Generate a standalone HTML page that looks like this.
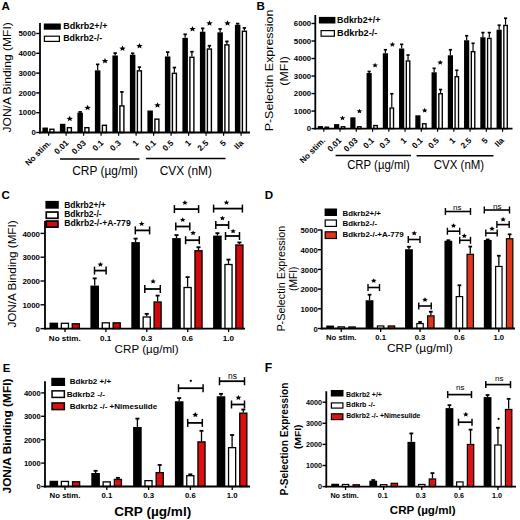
<!DOCTYPE html>
<html><head><meta charset="utf-8"><style>
html,body{margin:0;padding:0;background:#fff;width:520px;height:520px;overflow:hidden}
svg{display:block}
text{font-family:"Liberation Sans", sans-serif}
</style></head><body>
<svg width="520" height="520" viewBox="0 0 520 520" font-family='"Liberation Sans", sans-serif'>
<rect width="520" height="520" fill="#fff"/>
<text x="1.61" y="9.50" font-size="11.6" font-weight="bold">A</text>
<rect x="42.40" y="127.55" width="5.50" height="4.95" fill="#000"/>
<rect x="49.90" y="129.24" width="4.00" height="3.26" fill="#fff" stroke="#000" stroke-width="1.4"/>
<rect x="59.90" y="123.79" width="5.50" height="8.71" fill="#000"/>
<rect x="67.40" y="127.66" width="4.00" height="4.84" fill="#fff" stroke="#000" stroke-width="1.4"/>
<line x1="80.15" y1="112.70" x2="80.15" y2="111.91" stroke="#000" stroke-width="1.25"/>
<line x1="78.45" y1="111.91" x2="81.85" y2="111.91" stroke="#000" stroke-width="1.75"/>
<rect x="77.40" y="112.70" width="5.50" height="19.80" fill="#000"/>
<rect x="84.90" y="127.66" width="4.00" height="4.84" fill="#fff" stroke="#000" stroke-width="1.4"/>
<line x1="97.65" y1="70.33" x2="97.65" y2="64.39" stroke="#000" stroke-width="1.25"/>
<line x1="95.95" y1="64.39" x2="99.35" y2="64.39" stroke="#000" stroke-width="1.75"/>
<rect x="94.90" y="70.33" width="5.50" height="62.17" fill="#000"/>
<rect x="102.40" y="125.28" width="4.00" height="7.22" fill="#fff" stroke="#000" stroke-width="1.4"/>
<line x1="115.15" y1="55.48" x2="115.15" y2="53.10" stroke="#000" stroke-width="1.25"/>
<line x1="113.45" y1="53.10" x2="116.85" y2="53.10" stroke="#000" stroke-width="1.75"/>
<rect x="112.40" y="55.48" width="5.50" height="77.02" fill="#000"/>
<line x1="121.90" y1="105.18" x2="121.90" y2="91.91" stroke="#000" stroke-width="1.25"/>
<line x1="120.20" y1="91.91" x2="123.60" y2="91.91" stroke="#000" stroke-width="1.75"/>
<rect x="119.90" y="105.88" width="4.00" height="26.62" fill="#fff" stroke="#000" stroke-width="1.4"/>
<line x1="132.65" y1="54.78" x2="132.65" y2="53.30" stroke="#000" stroke-width="1.25"/>
<line x1="130.95" y1="53.30" x2="134.35" y2="53.30" stroke="#000" stroke-width="1.75"/>
<rect x="129.90" y="54.78" width="5.50" height="77.72" fill="#000"/>
<line x1="139.40" y1="70.13" x2="139.40" y2="67.16" stroke="#000" stroke-width="1.25"/>
<line x1="137.70" y1="67.16" x2="141.10" y2="67.16" stroke="#000" stroke-width="1.75"/>
<rect x="137.40" y="70.83" width="4.00" height="61.67" fill="#fff" stroke="#000" stroke-width="1.4"/>
<rect x="147.40" y="110.52" width="5.50" height="21.98" fill="#000"/>
<rect x="154.90" y="119.14" width="4.00" height="13.36" fill="#fff" stroke="#000" stroke-width="1.4"/>
<line x1="167.65" y1="56.47" x2="167.65" y2="52.11" stroke="#000" stroke-width="1.25"/>
<line x1="165.95" y1="52.11" x2="169.35" y2="52.11" stroke="#000" stroke-width="1.75"/>
<rect x="164.90" y="56.47" width="5.50" height="76.03" fill="#000"/>
<line x1="174.40" y1="72.60" x2="174.40" y2="67.56" stroke="#000" stroke-width="1.25"/>
<line x1="172.70" y1="67.56" x2="176.10" y2="67.56" stroke="#000" stroke-width="1.75"/>
<rect x="172.40" y="73.30" width="4.00" height="59.20" fill="#fff" stroke="#000" stroke-width="1.4"/>
<line x1="185.15" y1="37.86" x2="185.15" y2="34.29" stroke="#000" stroke-width="1.25"/>
<line x1="183.45" y1="34.29" x2="186.85" y2="34.29" stroke="#000" stroke-width="1.75"/>
<rect x="182.40" y="37.86" width="5.50" height="94.64" fill="#000"/>
<line x1="191.90" y1="56.57" x2="191.90" y2="51.72" stroke="#000" stroke-width="1.25"/>
<line x1="190.20" y1="51.72" x2="193.60" y2="51.72" stroke="#000" stroke-width="1.75"/>
<rect x="189.90" y="57.27" width="4.00" height="75.23" fill="#fff" stroke="#000" stroke-width="1.4"/>
<line x1="202.65" y1="31.72" x2="202.65" y2="28.35" stroke="#000" stroke-width="1.25"/>
<line x1="200.95" y1="28.35" x2="204.35" y2="28.35" stroke="#000" stroke-width="1.75"/>
<rect x="199.90" y="31.72" width="5.50" height="100.78" fill="#000"/>
<line x1="209.40" y1="48.35" x2="209.40" y2="45.78" stroke="#000" stroke-width="1.25"/>
<line x1="207.70" y1="45.78" x2="211.10" y2="45.78" stroke="#000" stroke-width="1.75"/>
<rect x="207.40" y="49.05" width="4.00" height="83.45" fill="#fff" stroke="#000" stroke-width="1.4"/>
<line x1="220.15" y1="32.31" x2="220.15" y2="28.95" stroke="#000" stroke-width="1.25"/>
<line x1="218.45" y1="28.95" x2="221.85" y2="28.95" stroke="#000" stroke-width="1.75"/>
<rect x="217.40" y="32.31" width="5.50" height="100.19" fill="#000"/>
<line x1="226.90" y1="44.19" x2="226.90" y2="41.42" stroke="#000" stroke-width="1.25"/>
<line x1="225.20" y1="41.42" x2="228.60" y2="41.42" stroke="#000" stroke-width="1.75"/>
<rect x="224.90" y="44.89" width="4.00" height="87.61" fill="#fff" stroke="#000" stroke-width="1.4"/>
<line x1="237.65" y1="24.79" x2="237.65" y2="23.60" stroke="#000" stroke-width="1.25"/>
<line x1="235.95" y1="23.60" x2="239.35" y2="23.60" stroke="#000" stroke-width="1.75"/>
<rect x="234.90" y="24.79" width="5.50" height="107.71" fill="#000"/>
<line x1="244.40" y1="30.53" x2="244.40" y2="27.96" stroke="#000" stroke-width="1.25"/>
<line x1="242.70" y1="27.96" x2="246.10" y2="27.96" stroke="#000" stroke-width="1.75"/>
<rect x="242.40" y="31.23" width="4.00" height="101.27" fill="#fff" stroke="#000" stroke-width="1.4"/>
<line x1="40.00" y1="23.00" x2="40.00" y2="133.40" stroke="#000" stroke-width="1.8"/>
<line x1="36.20" y1="132.50" x2="40.00" y2="132.50" stroke="#000" stroke-width="1.4"/>
<text x="35.90" y="135.25" font-size="7.8" font-weight="bold" text-anchor="end">0</text>
<line x1="36.20" y1="112.70" x2="40.00" y2="112.70" stroke="#000" stroke-width="1.4"/>
<text x="35.90" y="115.45" font-size="7.8" font-weight="bold" text-anchor="end">1000</text>
<line x1="36.20" y1="92.90" x2="40.00" y2="92.90" stroke="#000" stroke-width="1.4"/>
<text x="35.90" y="95.65" font-size="7.8" font-weight="bold" text-anchor="end">2000</text>
<line x1="36.20" y1="73.10" x2="40.00" y2="73.10" stroke="#000" stroke-width="1.4"/>
<text x="35.90" y="75.85" font-size="7.8" font-weight="bold" text-anchor="end">3000</text>
<line x1="36.20" y1="53.30" x2="40.00" y2="53.30" stroke="#000" stroke-width="1.4"/>
<text x="35.90" y="56.05" font-size="7.8" font-weight="bold" text-anchor="end">4000</text>
<line x1="36.20" y1="33.50" x2="40.00" y2="33.50" stroke="#000" stroke-width="1.4"/>
<text x="35.90" y="36.25" font-size="7.8" font-weight="bold" text-anchor="end">5000</text>
<line x1="39.10" y1="132.50" x2="250.00" y2="132.50" stroke="#000" stroke-width="1.8"/>
<line x1="48.60" y1="132.50" x2="48.60" y2="135.70" stroke="#000" stroke-width="1.2"/>
<line x1="66.10" y1="132.50" x2="66.10" y2="135.70" stroke="#000" stroke-width="1.2"/>
<line x1="83.60" y1="132.50" x2="83.60" y2="135.70" stroke="#000" stroke-width="1.2"/>
<line x1="101.10" y1="132.50" x2="101.10" y2="135.70" stroke="#000" stroke-width="1.2"/>
<line x1="118.60" y1="132.50" x2="118.60" y2="135.70" stroke="#000" stroke-width="1.2"/>
<line x1="136.10" y1="132.50" x2="136.10" y2="135.70" stroke="#000" stroke-width="1.2"/>
<line x1="153.60" y1="132.50" x2="153.60" y2="135.70" stroke="#000" stroke-width="1.2"/>
<line x1="171.10" y1="132.50" x2="171.10" y2="135.70" stroke="#000" stroke-width="1.2"/>
<line x1="188.60" y1="132.50" x2="188.60" y2="135.70" stroke="#000" stroke-width="1.2"/>
<line x1="206.10" y1="132.50" x2="206.10" y2="135.70" stroke="#000" stroke-width="1.2"/>
<line x1="223.60" y1="132.50" x2="223.60" y2="135.70" stroke="#000" stroke-width="1.2"/>
<line x1="241.10" y1="132.50" x2="241.10" y2="135.70" stroke="#000" stroke-width="1.2"/>
<polygon points="69.75,115.86 70.67,117.69 72.98,117.88 71.24,119.19 71.75,121.14 69.75,120.12 67.75,121.14 68.26,119.19 66.52,117.88 68.83,117.69" fill="#000"/>
<polygon points="87.60,104.86 88.52,106.69 90.83,106.88 89.09,108.19 89.60,110.14 87.60,109.12 85.60,110.14 86.11,108.19 84.37,106.88 86.68,106.69" fill="#000"/>
<polygon points="105.00,58.11 105.92,59.94 108.23,60.13 106.49,61.44 107.00,63.39 105.00,62.37 103.00,63.39 103.51,61.44 101.77,60.13 104.08,59.94" fill="#000"/>
<polygon points="122.50,45.61 123.42,47.44 125.73,47.63 123.99,48.94 124.50,50.89 122.50,49.87 120.50,50.89 121.01,48.94 119.27,47.63 121.58,47.44" fill="#000"/>
<polygon points="139.50,43.11 140.42,44.94 142.73,45.13 140.99,46.44 141.50,48.39 139.50,47.37 137.50,48.39 138.01,46.44 136.27,45.13 138.58,44.94" fill="#000"/>
<polygon points="157.50,102.36 158.42,104.19 160.73,104.38 158.99,105.69 159.50,107.64 157.50,106.62 155.50,107.64 156.01,105.69 154.27,104.38 156.58,104.19" fill="#000"/>
<polygon points="192.50,26.11 193.42,27.94 195.73,28.13 193.99,29.44 194.50,31.39 192.50,30.37 190.50,31.39 191.01,29.44 189.27,28.13 191.58,27.94" fill="#000"/>
<polygon points="209.50,20.36 210.42,22.19 212.73,22.38 210.99,23.69 211.50,25.64 209.50,24.62 207.50,25.64 208.01,23.69 206.27,22.38 208.58,22.19" fill="#000"/>
<polygon points="227.50,20.36 228.42,22.19 230.73,22.38 228.99,23.69 229.50,25.64 227.50,24.62 225.50,25.64 226.01,23.69 224.27,22.38 226.58,22.19" fill="#000"/>
<text x="10.85" y="77.35" font-size="11.2" font-weight="normal" text-anchor="middle" textLength="110.25" lengthAdjust="spacingAndGlyphs" transform="rotate(-90 10.85 77.35)">JON/A Binding (MFI)</text>
<text x="51.40" y="143.50" font-size="8.2" font-weight="bold" text-anchor="end" transform="rotate(-45 51.40 143.50)">No stim.</text>
<text x="68.90" y="143.50" font-size="8.2" font-weight="bold" text-anchor="end" transform="rotate(-45 68.90 143.50)">0.01</text>
<text x="86.40" y="143.50" font-size="8.2" font-weight="bold" text-anchor="end" transform="rotate(-45 86.40 143.50)">0.03</text>
<text x="103.90" y="143.50" font-size="8.2" font-weight="bold" text-anchor="end" transform="rotate(-45 103.90 143.50)">0.1</text>
<text x="121.40" y="143.50" font-size="8.2" font-weight="bold" text-anchor="end" transform="rotate(-45 121.40 143.50)">0.3</text>
<text x="138.90" y="143.50" font-size="8.2" font-weight="bold" text-anchor="end" transform="rotate(-45 138.90 143.50)">1</text>
<text x="156.40" y="143.50" font-size="8.2" font-weight="bold" text-anchor="end" transform="rotate(-45 156.40 143.50)">0.1</text>
<text x="173.90" y="143.50" font-size="8.2" font-weight="bold" text-anchor="end" transform="rotate(-45 173.90 143.50)">0.5</text>
<text x="191.40" y="143.50" font-size="8.2" font-weight="bold" text-anchor="end" transform="rotate(-45 191.40 143.50)">1</text>
<text x="208.90" y="143.50" font-size="8.2" font-weight="bold" text-anchor="end" transform="rotate(-45 208.90 143.50)">2.5</text>
<text x="226.40" y="143.50" font-size="8.2" font-weight="bold" text-anchor="end" transform="rotate(-45 226.40 143.50)">5</text>
<text x="243.90" y="143.50" font-size="8.2" font-weight="bold" text-anchor="end" transform="rotate(-45 243.90 143.50)">IIa</text>
<line x1="60.00" y1="159.00" x2="139.40" y2="159.00" stroke="#000" stroke-width="1.5"/>
<line x1="146.00" y1="158.50" x2="225.50" y2="158.50" stroke="#000" stroke-width="1.5"/>
<text x="72.20" y="175.00" font-size="12.3" font-weight="normal" textLength="65.54" lengthAdjust="spacingAndGlyphs">CRP (µg/ml)</text>
<text x="159.70" y="175.00" font-size="12.3" font-weight="normal" textLength="52.26" lengthAdjust="spacingAndGlyphs">CVX (nM)</text>
<rect x="43.80" y="23.50" width="17.00" height="6.20" fill="#000"/>
<rect x="44.40" y="36.20" width="15.00" height="5.20" fill="#fff" stroke="#000" stroke-width="1.2"/>
<text x="63.19" y="29.30" font-size="8.6" font-weight="bold" textLength="44.28" lengthAdjust="spacingAndGlyphs">Bdkrb2+/+</text>
<text x="63.20" y="41.00" font-size="8.6" font-weight="bold" textLength="38.95" lengthAdjust="spacingAndGlyphs">Bdkrb2-/-</text>
<text x="256.42" y="9.70" font-size="11.6" font-weight="bold">B</text>
<rect x="317.80" y="126.09" width="5.20" height="2.51" fill="#000"/>
<rect x="325.08" y="127.17" width="3.45" height="1.43" fill="#fff" stroke="#000" stroke-width="1.35"/>
<rect x="334.05" y="124.10" width="5.20" height="4.50" fill="#000"/>
<rect x="341.33" y="126.77" width="3.45" height="1.83" fill="#fff" stroke="#000" stroke-width="1.35"/>
<rect x="350.30" y="117.33" width="5.20" height="11.27" fill="#000"/>
<rect x="357.58" y="126.77" width="3.45" height="1.83" fill="#fff" stroke="#000" stroke-width="1.35"/>
<line x1="369.15" y1="73.06" x2="369.15" y2="71.48" stroke="#000" stroke-width="1.2"/>
<line x1="367.55" y1="71.48" x2="370.75" y2="71.48" stroke="#000" stroke-width="1.68"/>
<rect x="366.55" y="73.06" width="5.20" height="55.54" fill="#000"/>
<rect x="373.83" y="125.53" width="3.45" height="3.07" fill="#fff" stroke="#000" stroke-width="1.35"/>
<line x1="385.40" y1="53.26" x2="385.40" y2="49.76" stroke="#000" stroke-width="1.2"/>
<line x1="383.80" y1="49.76" x2="387.00" y2="49.76" stroke="#000" stroke-width="1.68"/>
<rect x="382.80" y="53.26" width="5.20" height="75.34" fill="#000"/>
<line x1="391.80" y1="107.33" x2="391.80" y2="93.74" stroke="#000" stroke-width="1.2"/>
<line x1="390.20" y1="93.74" x2="393.40" y2="93.74" stroke="#000" stroke-width="1.68"/>
<rect x="390.08" y="108.01" width="3.45" height="20.59" fill="#fff" stroke="#000" stroke-width="1.35"/>
<line x1="401.65" y1="48.52" x2="401.65" y2="44.33" stroke="#000" stroke-width="1.2"/>
<line x1="400.05" y1="44.33" x2="403.25" y2="44.33" stroke="#000" stroke-width="1.68"/>
<rect x="399.05" y="48.52" width="5.20" height="80.08" fill="#000"/>
<line x1="408.05" y1="60.27" x2="408.05" y2="55.02" stroke="#000" stroke-width="1.2"/>
<line x1="406.45" y1="55.02" x2="409.65" y2="55.02" stroke="#000" stroke-width="1.68"/>
<rect x="406.33" y="60.95" width="3.45" height="67.65" fill="#fff" stroke="#000" stroke-width="1.35"/>
<rect x="415.30" y="115.34" width="5.20" height="13.26" fill="#000"/>
<rect x="422.58" y="123.77" width="3.45" height="4.83" fill="#fff" stroke="#000" stroke-width="1.35"/>
<line x1="434.15" y1="72.29" x2="434.15" y2="68.33" stroke="#000" stroke-width="1.2"/>
<line x1="432.55" y1="68.33" x2="435.75" y2="68.33" stroke="#000" stroke-width="1.68"/>
<rect x="431.55" y="72.29" width="5.20" height="56.31" fill="#000"/>
<line x1="440.55" y1="93.07" x2="440.55" y2="89.53" stroke="#000" stroke-width="1.2"/>
<line x1="438.95" y1="89.53" x2="442.15" y2="89.53" stroke="#000" stroke-width="1.68"/>
<rect x="438.83" y="93.74" width="3.45" height="34.86" fill="#fff" stroke="#000" stroke-width="1.35"/>
<line x1="450.40" y1="55.28" x2="450.40" y2="49.76" stroke="#000" stroke-width="1.2"/>
<line x1="448.80" y1="49.76" x2="452.00" y2="49.76" stroke="#000" stroke-width="1.68"/>
<rect x="447.80" y="55.28" width="5.20" height="73.32" fill="#000"/>
<line x1="456.80" y1="76.04" x2="456.80" y2="70.26" stroke="#000" stroke-width="1.2"/>
<line x1="455.20" y1="70.26" x2="458.40" y2="70.26" stroke="#000" stroke-width="1.68"/>
<rect x="455.08" y="76.71" width="3.45" height="51.89" fill="#fff" stroke="#000" stroke-width="1.35"/>
<line x1="466.65" y1="40.25" x2="466.65" y2="35.74" stroke="#000" stroke-width="1.2"/>
<line x1="465.05" y1="35.74" x2="468.25" y2="35.74" stroke="#000" stroke-width="1.68"/>
<rect x="464.05" y="40.25" width="5.20" height="88.35" fill="#000"/>
<line x1="473.05" y1="51.02" x2="473.05" y2="43.28" stroke="#000" stroke-width="1.2"/>
<line x1="471.45" y1="43.28" x2="474.65" y2="43.28" stroke="#000" stroke-width="1.68"/>
<rect x="471.33" y="51.70" width="3.45" height="76.90" fill="#fff" stroke="#000" stroke-width="1.35"/>
<line x1="482.90" y1="37.25" x2="482.90" y2="32.59" stroke="#000" stroke-width="1.2"/>
<line x1="481.30" y1="32.59" x2="484.50" y2="32.59" stroke="#000" stroke-width="1.68"/>
<rect x="480.30" y="37.25" width="5.20" height="91.35" fill="#000"/>
<line x1="489.30" y1="37.76" x2="489.30" y2="32.59" stroke="#000" stroke-width="1.2"/>
<line x1="487.70" y1="32.59" x2="490.90" y2="32.59" stroke="#000" stroke-width="1.68"/>
<rect x="487.58" y="38.43" width="3.45" height="90.17" fill="#fff" stroke="#000" stroke-width="1.35"/>
<line x1="499.15" y1="29.73" x2="499.15" y2="25.23" stroke="#000" stroke-width="1.2"/>
<line x1="497.55" y1="25.23" x2="500.75" y2="25.23" stroke="#000" stroke-width="1.68"/>
<rect x="496.55" y="29.73" width="5.20" height="98.87" fill="#000"/>
<line x1="505.55" y1="24.74" x2="505.55" y2="18.22" stroke="#000" stroke-width="1.2"/>
<line x1="503.95" y1="18.22" x2="507.15" y2="18.22" stroke="#000" stroke-width="1.68"/>
<rect x="503.83" y="25.42" width="3.45" height="103.18" fill="#fff" stroke="#000" stroke-width="1.35"/>
<line x1="315.30" y1="15.00" x2="315.30" y2="129.50" stroke="#000" stroke-width="1.8"/>
<line x1="311.50" y1="128.60" x2="315.30" y2="128.60" stroke="#000" stroke-width="1.4"/>
<text x="311.20" y="131.35" font-size="7.8" font-weight="bold" text-anchor="end">0</text>
<line x1="311.50" y1="111.08" x2="315.30" y2="111.08" stroke="#000" stroke-width="1.4"/>
<text x="311.20" y="113.83" font-size="7.8" font-weight="bold" text-anchor="end">1000</text>
<line x1="311.50" y1="93.56" x2="315.30" y2="93.56" stroke="#000" stroke-width="1.4"/>
<text x="311.20" y="96.31" font-size="7.8" font-weight="bold" text-anchor="end">2000</text>
<line x1="311.50" y1="76.04" x2="315.30" y2="76.04" stroke="#000" stroke-width="1.4"/>
<text x="311.20" y="78.79" font-size="7.8" font-weight="bold" text-anchor="end">3000</text>
<line x1="311.50" y1="58.52" x2="315.30" y2="58.52" stroke="#000" stroke-width="1.4"/>
<text x="311.20" y="61.27" font-size="7.8" font-weight="bold" text-anchor="end">4000</text>
<line x1="311.50" y1="41.00" x2="315.30" y2="41.00" stroke="#000" stroke-width="1.4"/>
<text x="311.20" y="43.75" font-size="7.8" font-weight="bold" text-anchor="end">5000</text>
<line x1="311.50" y1="23.48" x2="315.30" y2="23.48" stroke="#000" stroke-width="1.4"/>
<text x="311.20" y="26.23" font-size="7.8" font-weight="bold" text-anchor="end">6000</text>
<line x1="314.40" y1="128.60" x2="512.50" y2="128.60" stroke="#000" stroke-width="1.8"/>
<line x1="323.80" y1="128.60" x2="323.80" y2="131.80" stroke="#000" stroke-width="1.2"/>
<line x1="340.05" y1="128.60" x2="340.05" y2="131.80" stroke="#000" stroke-width="1.2"/>
<line x1="356.30" y1="128.60" x2="356.30" y2="131.80" stroke="#000" stroke-width="1.2"/>
<line x1="372.55" y1="128.60" x2="372.55" y2="131.80" stroke="#000" stroke-width="1.2"/>
<line x1="388.80" y1="128.60" x2="388.80" y2="131.80" stroke="#000" stroke-width="1.2"/>
<line x1="405.05" y1="128.60" x2="405.05" y2="131.80" stroke="#000" stroke-width="1.2"/>
<line x1="421.30" y1="128.60" x2="421.30" y2="131.80" stroke="#000" stroke-width="1.2"/>
<line x1="437.55" y1="128.60" x2="437.55" y2="131.80" stroke="#000" stroke-width="1.2"/>
<line x1="453.80" y1="128.60" x2="453.80" y2="131.80" stroke="#000" stroke-width="1.2"/>
<line x1="470.05" y1="128.60" x2="470.05" y2="131.80" stroke="#000" stroke-width="1.2"/>
<line x1="486.30" y1="128.60" x2="486.30" y2="131.80" stroke="#000" stroke-width="1.2"/>
<line x1="502.55" y1="128.60" x2="502.55" y2="131.80" stroke="#000" stroke-width="1.2"/>
<polygon points="342.50,115.57 343.31,117.19 345.35,117.35 343.81,118.51 344.26,120.23 342.50,119.33 340.74,120.23 341.19,118.51 339.65,117.35 341.69,117.19" fill="#000"/>
<polygon points="359.40,108.67 360.21,110.29 362.25,110.45 360.71,111.61 361.16,113.33 359.40,112.43 357.64,113.33 358.09,111.61 356.55,110.45 358.59,110.29" fill="#000"/>
<polygon points="375.10,62.77 375.91,64.39 377.95,64.55 376.41,65.71 376.86,67.43 375.10,66.53 373.34,67.43 373.79,65.71 372.25,64.55 374.29,64.39" fill="#000"/>
<polygon points="392.40,41.97 393.21,43.59 395.25,43.75 393.71,44.91 394.16,46.63 392.40,45.73 390.64,46.63 391.09,44.91 389.55,43.75 391.59,43.59" fill="#000"/>
<polygon points="424.70,107.87 425.51,109.49 427.55,109.65 426.01,110.81 426.46,112.53 424.70,111.63 422.94,112.53 423.39,110.81 421.85,109.65 423.89,109.49" fill="#000"/>
<polygon points="440.20,59.97 441.01,61.59 443.05,61.75 441.51,62.91 441.96,64.63 440.20,63.73 438.44,64.63 438.89,62.91 437.35,61.75 439.39,61.59" fill="#000"/>
<text x="273.10" y="70.46" font-size="11.5" font-weight="normal" text-anchor="middle" textLength="121.74" lengthAdjust="spacingAndGlyphs" transform="rotate(-90 273.10 70.46)">P-Selectin Expression</text>
<text x="287.90" y="70.85" font-size="11.5" font-weight="normal" text-anchor="middle" textLength="29.66" lengthAdjust="spacingAndGlyphs" transform="rotate(-90 287.90 70.85)">(MFI)</text>
<text x="325.80" y="141.00" font-size="8.2" font-weight="bold" text-anchor="end" transform="rotate(-45 325.80 141.00)">No stim.</text>
<text x="342.05" y="141.00" font-size="8.2" font-weight="bold" text-anchor="end" transform="rotate(-45 342.05 141.00)">0.01</text>
<text x="358.30" y="141.00" font-size="8.2" font-weight="bold" text-anchor="end" transform="rotate(-45 358.30 141.00)">0.03</text>
<text x="374.55" y="141.00" font-size="8.2" font-weight="bold" text-anchor="end" transform="rotate(-45 374.55 141.00)">0.1</text>
<text x="390.80" y="141.00" font-size="8.2" font-weight="bold" text-anchor="end" transform="rotate(-45 390.80 141.00)">0.3</text>
<text x="407.05" y="141.00" font-size="8.2" font-weight="bold" text-anchor="end" transform="rotate(-45 407.05 141.00)">1</text>
<text x="423.30" y="141.00" font-size="8.2" font-weight="bold" text-anchor="end" transform="rotate(-45 423.30 141.00)">0.1</text>
<text x="439.55" y="141.00" font-size="8.2" font-weight="bold" text-anchor="end" transform="rotate(-45 439.55 141.00)">0.5</text>
<text x="455.80" y="141.00" font-size="8.2" font-weight="bold" text-anchor="end" transform="rotate(-45 455.80 141.00)">1</text>
<text x="472.05" y="141.00" font-size="8.2" font-weight="bold" text-anchor="end" transform="rotate(-45 472.05 141.00)">2.5</text>
<text x="488.30" y="141.00" font-size="8.2" font-weight="bold" text-anchor="end" transform="rotate(-45 488.30 141.00)">5</text>
<text x="504.55" y="141.00" font-size="8.2" font-weight="bold" text-anchor="end" transform="rotate(-45 504.55 141.00)">IIa</text>
<line x1="335.60" y1="155.60" x2="411.00" y2="155.60" stroke="#000" stroke-width="1.5"/>
<line x1="416.60" y1="155.80" x2="493.50" y2="155.80" stroke="#000" stroke-width="1.5"/>
<text x="347.13" y="169.00" font-size="12.3" font-weight="normal" textLength="62.58" lengthAdjust="spacingAndGlyphs">CRP (µg/ml)</text>
<text x="433.83" y="169.00" font-size="12.3" font-weight="normal" textLength="50.31" lengthAdjust="spacingAndGlyphs">CVX (nM)</text>
<rect x="318.90" y="16.90" width="16.50" height="6.60" fill="#000"/>
<rect x="321.10" y="30.60" width="13.30" height="5.60" fill="#fff" stroke="#000" stroke-width="1.2"/>
<text x="337.10" y="23.30" font-size="8.6" font-weight="bold" textLength="43.26" lengthAdjust="spacingAndGlyphs">Bdkrb2+/+</text>
<text x="337.08" y="35.60" font-size="8.6" font-weight="bold" textLength="40.28" lengthAdjust="spacingAndGlyphs">Bdkrb2-/-</text>
<text x="1.54" y="199.00" font-size="11.6" font-weight="bold">C</text>
<rect x="49.50" y="322.65" width="8.60" height="5.95" fill="#000"/>
<rect x="61.35" y="323.30" width="7.10" height="5.30" fill="#fff" stroke="#000" stroke-width="1.3"/>
<rect x="72.25" y="323.78" width="7.10" height="4.82" fill="#d00a0a" stroke="#000" stroke-width="1.3"/>
<line x1="94.70" y1="285.59" x2="94.70" y2="278.36" stroke="#000" stroke-width="1.3"/>
<line x1="92.70" y1="278.36" x2="96.70" y2="278.36" stroke="#000" stroke-width="1.8199999999999998"/>
<rect x="90.40" y="285.59" width="8.60" height="43.01" fill="#000"/>
<rect x="102.25" y="322.82" width="7.10" height="5.78" fill="#fff" stroke="#000" stroke-width="1.3"/>
<rect x="113.15" y="322.82" width="7.10" height="5.78" fill="#d00a0a" stroke="#000" stroke-width="1.3"/>
<line x1="135.60" y1="242.11" x2="135.60" y2="238.64" stroke="#000" stroke-width="1.3"/>
<line x1="133.60" y1="238.64" x2="137.60" y2="238.64" stroke="#000" stroke-width="1.8199999999999998"/>
<rect x="131.30" y="242.11" width="8.60" height="86.49" fill="#000"/>
<line x1="146.70" y1="316.34" x2="146.70" y2="313.84" stroke="#000" stroke-width="1.3"/>
<line x1="144.70" y1="313.84" x2="148.70" y2="313.84" stroke="#000" stroke-width="1.8199999999999998"/>
<rect x="143.15" y="316.99" width="7.10" height="11.61" fill="#fff" stroke="#000" stroke-width="1.3"/>
<line x1="157.60" y1="301.35" x2="157.60" y2="295.59" stroke="#000" stroke-width="1.3"/>
<line x1="155.60" y1="295.59" x2="159.60" y2="295.59" stroke="#000" stroke-width="1.8199999999999998"/>
<rect x="154.05" y="302.00" width="7.10" height="26.60" fill="#d00a0a" stroke="#000" stroke-width="1.3"/>
<line x1="176.50" y1="238.09" x2="176.50" y2="235.07" stroke="#000" stroke-width="1.3"/>
<line x1="174.50" y1="235.07" x2="178.50" y2="235.07" stroke="#000" stroke-width="1.8199999999999998"/>
<rect x="172.20" y="238.09" width="8.60" height="90.51" fill="#000"/>
<line x1="187.60" y1="286.85" x2="187.60" y2="277.10" stroke="#000" stroke-width="1.3"/>
<line x1="185.60" y1="277.10" x2="189.60" y2="277.10" stroke="#000" stroke-width="1.8199999999999998"/>
<rect x="184.05" y="287.50" width="7.10" height="41.10" fill="#fff" stroke="#000" stroke-width="1.3"/>
<line x1="198.50" y1="250.11" x2="198.50" y2="247.20" stroke="#000" stroke-width="1.3"/>
<line x1="196.50" y1="247.20" x2="200.50" y2="247.20" stroke="#000" stroke-width="1.8199999999999998"/>
<rect x="194.95" y="250.76" width="7.10" height="77.84" fill="#d00a0a" stroke="#000" stroke-width="1.3"/>
<line x1="217.40" y1="235.59" x2="217.40" y2="233.16" stroke="#000" stroke-width="1.3"/>
<line x1="215.40" y1="233.16" x2="219.40" y2="233.16" stroke="#000" stroke-width="1.8199999999999998"/>
<rect x="213.10" y="235.59" width="8.60" height="93.01" fill="#000"/>
<line x1="228.50" y1="263.86" x2="228.50" y2="259.58" stroke="#000" stroke-width="1.3"/>
<line x1="226.50" y1="259.58" x2="230.50" y2="259.58" stroke="#000" stroke-width="1.8199999999999998"/>
<rect x="224.95" y="264.51" width="7.10" height="64.09" fill="#fff" stroke="#000" stroke-width="1.3"/>
<line x1="239.40" y1="244.35" x2="239.40" y2="242.44" stroke="#000" stroke-width="1.3"/>
<line x1="237.40" y1="242.44" x2="241.40" y2="242.44" stroke="#000" stroke-width="1.8199999999999998"/>
<rect x="235.85" y="245.00" width="7.10" height="83.60" fill="#d00a0a" stroke="#000" stroke-width="1.3"/>
<line x1="45.00" y1="221.00" x2="45.00" y2="329.50" stroke="#000" stroke-width="1.8"/>
<line x1="40.50" y1="328.60" x2="45.00" y2="328.60" stroke="#000" stroke-width="1.4"/>
<text x="40.00" y="331.80" font-size="7.9" font-weight="bold" text-anchor="end">0</text>
<line x1="40.50" y1="304.80" x2="45.00" y2="304.80" stroke="#000" stroke-width="1.4"/>
<text x="40.00" y="308.00" font-size="7.9" font-weight="bold" text-anchor="end">1000</text>
<line x1="40.50" y1="281.00" x2="45.00" y2="281.00" stroke="#000" stroke-width="1.4"/>
<text x="40.00" y="284.20" font-size="7.9" font-weight="bold" text-anchor="end">2000</text>
<line x1="40.50" y1="257.20" x2="45.00" y2="257.20" stroke="#000" stroke-width="1.4"/>
<text x="40.00" y="260.40" font-size="7.9" font-weight="bold" text-anchor="end">3000</text>
<line x1="40.50" y1="233.40" x2="45.00" y2="233.40" stroke="#000" stroke-width="1.4"/>
<text x="40.00" y="236.60" font-size="7.9" font-weight="bold" text-anchor="end">4000</text>
<line x1="44.10" y1="328.60" x2="245.00" y2="328.60" stroke="#000" stroke-width="1.8"/>
<line x1="65.00" y1="328.60" x2="65.00" y2="332.10" stroke="#000" stroke-width="1.3"/>
<line x1="105.90" y1="328.60" x2="105.90" y2="332.10" stroke="#000" stroke-width="1.3"/>
<line x1="146.80" y1="328.60" x2="146.80" y2="332.10" stroke="#000" stroke-width="1.3"/>
<line x1="187.70" y1="328.60" x2="187.70" y2="332.10" stroke="#000" stroke-width="1.3"/>
<line x1="228.60" y1="328.60" x2="228.60" y2="332.10" stroke="#000" stroke-width="1.3"/>
<line x1="94.50" y1="270.60" x2="106.10" y2="270.60" stroke="#000" stroke-width="1.8"/>
<line x1="94.50" y1="266.60" x2="94.50" y2="274.60" stroke="#000" stroke-width="1.5"/>
<line x1="106.10" y1="266.60" x2="106.10" y2="274.60" stroke="#000" stroke-width="1.5"/>
<polygon points="100.40,261.97 101.21,263.59 103.25,263.75 101.71,264.91 102.16,266.63 100.40,265.73 98.64,266.63 99.09,264.91 97.55,263.75 99.59,263.59" fill="#000"/>
<line x1="135.30" y1="230.40" x2="149.60" y2="230.40" stroke="#000" stroke-width="1.8"/>
<line x1="135.30" y1="226.40" x2="135.30" y2="234.40" stroke="#000" stroke-width="1.5"/>
<line x1="149.60" y1="226.40" x2="149.60" y2="234.40" stroke="#000" stroke-width="1.5"/>
<polygon points="141.70,221.27 142.51,222.89 144.55,223.05 143.01,224.21 143.46,225.93 141.70,225.03 139.94,225.93 140.39,224.21 138.85,223.05 140.89,222.89" fill="#000"/>
<line x1="144.80" y1="289.00" x2="160.30" y2="289.00" stroke="#000" stroke-width="1.8"/>
<line x1="144.80" y1="285.00" x2="144.80" y2="293.00" stroke="#000" stroke-width="1.5"/>
<line x1="160.30" y1="285.00" x2="160.30" y2="293.00" stroke="#000" stroke-width="1.5"/>
<polygon points="153.10,278.87 153.91,280.49 155.95,280.65 154.41,281.81 154.86,283.53 153.10,282.63 151.34,283.53 151.79,281.81 150.25,280.65 152.29,280.49" fill="#000"/>
<line x1="174.40" y1="209.10" x2="198.60" y2="209.10" stroke="#000" stroke-width="1.8"/>
<line x1="174.40" y1="205.10" x2="174.40" y2="213.10" stroke="#000" stroke-width="1.5"/>
<line x1="198.60" y1="205.10" x2="198.60" y2="213.10" stroke="#000" stroke-width="1.5"/>
<polygon points="184.90,200.17 185.71,201.79 187.75,201.95 186.21,203.11 186.66,204.83 184.90,203.93 183.14,204.83 183.59,203.11 182.05,201.95 184.09,201.79" fill="#000"/>
<line x1="175.80" y1="226.50" x2="189.80" y2="226.50" stroke="#000" stroke-width="1.8"/>
<line x1="175.80" y1="222.50" x2="175.80" y2="230.50" stroke="#000" stroke-width="1.5"/>
<line x1="189.80" y1="222.50" x2="189.80" y2="230.50" stroke="#000" stroke-width="1.5"/>
<polygon points="182.70,217.27 183.51,218.89 185.55,219.05 184.01,220.21 184.46,221.93 182.70,221.03 180.94,221.93 181.39,220.21 179.85,219.05 181.89,218.89" fill="#000"/>
<line x1="185.60" y1="240.20" x2="199.30" y2="240.20" stroke="#000" stroke-width="1.8"/>
<line x1="185.60" y1="236.20" x2="185.60" y2="244.20" stroke="#000" stroke-width="1.5"/>
<line x1="199.30" y1="236.20" x2="199.30" y2="244.20" stroke="#000" stroke-width="1.5"/>
<polygon points="193.10,230.47 193.91,232.09 195.95,232.25 194.41,233.41 194.86,235.13 193.10,234.23 191.34,235.13 191.79,233.41 190.25,232.25 192.29,232.09" fill="#000"/>
<line x1="213.60" y1="208.60" x2="242.40" y2="208.60" stroke="#000" stroke-width="1.8"/>
<line x1="213.60" y1="204.60" x2="213.60" y2="212.60" stroke="#000" stroke-width="1.5"/>
<line x1="242.40" y1="204.60" x2="242.40" y2="212.60" stroke="#000" stroke-width="1.5"/>
<polygon points="226.50,200.07 227.31,201.69 229.35,201.85 227.81,203.01 228.26,204.73 226.50,203.83 224.74,204.73 225.19,203.01 223.65,201.85 225.69,201.69" fill="#000"/>
<line x1="215.80" y1="225.00" x2="228.60" y2="225.00" stroke="#000" stroke-width="1.8"/>
<line x1="215.80" y1="221.00" x2="215.80" y2="229.00" stroke="#000" stroke-width="1.5"/>
<line x1="228.60" y1="221.00" x2="228.60" y2="229.00" stroke="#000" stroke-width="1.5"/>
<polygon points="222.40,215.67 223.21,217.29 225.25,217.45 223.71,218.61 224.16,220.33 222.40,219.43 220.64,220.33 221.09,218.61 219.55,217.45 221.59,217.29" fill="#000"/>
<line x1="225.50" y1="236.00" x2="239.50" y2="236.00" stroke="#000" stroke-width="1.8"/>
<line x1="225.50" y1="232.00" x2="225.50" y2="240.00" stroke="#000" stroke-width="1.5"/>
<line x1="239.50" y1="232.00" x2="239.50" y2="240.00" stroke="#000" stroke-width="1.5"/>
<polygon points="233.10,228.67 233.91,230.29 235.95,230.45 234.41,231.61 234.86,233.33 233.10,232.43 231.34,233.33 231.79,231.61 230.25,230.45 232.29,230.29" fill="#000"/>
<text x="15.80" y="273.96" font-size="11.2" font-weight="normal" text-anchor="middle" textLength="107.23" lengthAdjust="spacingAndGlyphs" transform="rotate(-90 15.80 273.96)">JON/A Binding (MFI)</text>
<text x="64.80" y="341.20" font-size="8.1" font-weight="bold" text-anchor="middle">No stim.</text>
<text x="105.70" y="341.20" font-size="8.1" font-weight="bold" text-anchor="middle">0.1</text>
<text x="146.60" y="341.20" font-size="8.1" font-weight="bold" text-anchor="middle">0.3</text>
<text x="187.50" y="341.20" font-size="8.1" font-weight="bold" text-anchor="middle">0.6</text>
<text x="228.40" y="341.20" font-size="8.1" font-weight="bold" text-anchor="middle">1.0</text>
<text x="114.62" y="352.60" font-size="11.8" font-weight="normal" textLength="63.91" lengthAdjust="spacingAndGlyphs">CRP (µg/ml)</text>
<rect x="45.40" y="200.90" width="13.40" height="7.80" fill="#000"/>
<rect x="46.25" y="212.05" width="11.70" height="6.25" fill="#fff" stroke="#000" stroke-width="1.7"/>
<rect x="46.25" y="221.05" width="11.70" height="6.05" fill="#d00a0a" stroke="#000" stroke-width="1.7"/>
<text x="64.23" y="207.60" font-size="8.3" font-weight="bold" textLength="41.52" lengthAdjust="spacingAndGlyphs">Bdkrb2+/+</text>
<text x="64.22" y="216.80" font-size="8.3" font-weight="bold" textLength="37.41" lengthAdjust="spacingAndGlyphs">Bdkrb2-/-</text>
<text x="64.22" y="226.40" font-size="8.3" font-weight="bold" textLength="66.50" lengthAdjust="spacingAndGlyphs">Bdkrb2-/-+A-779</text>
<text x="264.82" y="198.90" font-size="11.6" font-weight="bold">D</text>
<rect x="326.25" y="325.55" width="7.80" height="2.95" fill="#000"/>
<rect x="338.05" y="326.83" width="6.40" height="1.67" fill="#fff" stroke="#000" stroke-width="1.2"/>
<rect x="348.85" y="326.93" width="6.40" height="1.57" fill="#e0361c" stroke="#000" stroke-width="1.2"/>
<line x1="369.55" y1="300.25" x2="369.55" y2="294.75" stroke="#000" stroke-width="1.3"/>
<line x1="367.70" y1="294.75" x2="371.40" y2="294.75" stroke="#000" stroke-width="1.8199999999999998"/>
<rect x="365.65" y="300.25" width="7.80" height="28.25" fill="#000"/>
<rect x="377.45" y="325.95" width="6.40" height="2.55" fill="#fff" stroke="#000" stroke-width="1.2"/>
<rect x="388.25" y="325.95" width="6.40" height="2.55" fill="#e0361c" stroke="#000" stroke-width="1.2"/>
<line x1="408.95" y1="249.25" x2="408.95" y2="246.75" stroke="#000" stroke-width="1.3"/>
<line x1="407.10" y1="246.75" x2="410.80" y2="246.75" stroke="#000" stroke-width="1.8199999999999998"/>
<rect x="405.05" y="249.25" width="7.80" height="79.25" fill="#000"/>
<line x1="420.05" y1="322.98" x2="420.05" y2="322.00" stroke="#000" stroke-width="1.3"/>
<line x1="418.20" y1="322.00" x2="421.90" y2="322.00" stroke="#000" stroke-width="1.8199999999999998"/>
<rect x="416.85" y="323.58" width="6.40" height="4.92" fill="#fff" stroke="#000" stroke-width="1.2"/>
<line x1="430.85" y1="315.26" x2="430.85" y2="311.75" stroke="#000" stroke-width="1.3"/>
<line x1="429.00" y1="311.75" x2="432.70" y2="311.75" stroke="#000" stroke-width="1.8199999999999998"/>
<rect x="427.65" y="315.86" width="6.40" height="12.64" fill="#e0361c" stroke="#000" stroke-width="1.2"/>
<line x1="448.35" y1="240.76" x2="448.35" y2="240.24" stroke="#000" stroke-width="1.3"/>
<line x1="446.50" y1="240.24" x2="450.20" y2="240.24" stroke="#000" stroke-width="1.8199999999999998"/>
<rect x="444.45" y="240.76" width="7.80" height="87.74" fill="#000"/>
<line x1="459.45" y1="296.00" x2="459.45" y2="285.26" stroke="#000" stroke-width="1.3"/>
<line x1="457.60" y1="285.26" x2="461.30" y2="285.26" stroke="#000" stroke-width="1.8199999999999998"/>
<rect x="456.25" y="296.60" width="6.40" height="31.90" fill="#fff" stroke="#000" stroke-width="1.2"/>
<line x1="470.25" y1="253.74" x2="470.25" y2="246.55" stroke="#000" stroke-width="1.3"/>
<line x1="468.40" y1="246.55" x2="472.10" y2="246.55" stroke="#000" stroke-width="1.8199999999999998"/>
<rect x="467.05" y="254.34" width="6.40" height="74.16" fill="#e0361c" stroke="#000" stroke-width="1.2"/>
<line x1="487.75" y1="239.95" x2="487.75" y2="239.46" stroke="#000" stroke-width="1.3"/>
<line x1="485.90" y1="239.46" x2="489.60" y2="239.46" stroke="#000" stroke-width="1.8199999999999998"/>
<rect x="483.85" y="239.95" width="7.80" height="88.55" fill="#000"/>
<line x1="498.85" y1="265.85" x2="498.85" y2="255.75" stroke="#000" stroke-width="1.3"/>
<line x1="497.00" y1="255.75" x2="500.70" y2="255.75" stroke="#000" stroke-width="1.8199999999999998"/>
<rect x="495.65" y="266.45" width="6.40" height="62.05" fill="#fff" stroke="#000" stroke-width="1.2"/>
<line x1="509.65" y1="238.16" x2="509.65" y2="234.33" stroke="#000" stroke-width="1.3"/>
<line x1="507.80" y1="234.33" x2="511.50" y2="234.33" stroke="#000" stroke-width="1.8199999999999998"/>
<rect x="506.45" y="238.76" width="6.40" height="89.74" fill="#e0361c" stroke="#000" stroke-width="1.2"/>
<line x1="321.70" y1="229.50" x2="321.70" y2="329.40" stroke="#000" stroke-width="1.8"/>
<line x1="317.90" y1="328.50" x2="321.70" y2="328.50" stroke="#000" stroke-width="1.4"/>
<text x="317.70" y="331.60" font-size="7.7" font-weight="bold" text-anchor="end">0</text>
<line x1="317.90" y1="308.80" x2="321.70" y2="308.80" stroke="#000" stroke-width="1.4"/>
<text x="317.70" y="311.90" font-size="7.7" font-weight="bold" text-anchor="end">1000</text>
<line x1="317.90" y1="289.10" x2="321.70" y2="289.10" stroke="#000" stroke-width="1.4"/>
<text x="317.70" y="292.20" font-size="7.7" font-weight="bold" text-anchor="end">2000</text>
<line x1="317.90" y1="269.40" x2="321.70" y2="269.40" stroke="#000" stroke-width="1.4"/>
<text x="317.70" y="272.50" font-size="7.7" font-weight="bold" text-anchor="end">3000</text>
<line x1="317.90" y1="249.70" x2="321.70" y2="249.70" stroke="#000" stroke-width="1.4"/>
<text x="317.70" y="252.80" font-size="7.7" font-weight="bold" text-anchor="end">4000</text>
<line x1="317.90" y1="230.00" x2="321.70" y2="230.00" stroke="#000" stroke-width="1.4"/>
<text x="317.70" y="233.10" font-size="7.7" font-weight="bold" text-anchor="end">5000</text>
<line x1="320.80" y1="328.50" x2="515.00" y2="328.50" stroke="#000" stroke-width="1.8"/>
<line x1="341.25" y1="328.50" x2="341.25" y2="332.00" stroke="#000" stroke-width="1.3"/>
<line x1="380.65" y1="328.50" x2="380.65" y2="332.00" stroke="#000" stroke-width="1.3"/>
<line x1="420.05" y1="328.50" x2="420.05" y2="332.00" stroke="#000" stroke-width="1.3"/>
<line x1="459.45" y1="328.50" x2="459.45" y2="332.00" stroke="#000" stroke-width="1.3"/>
<line x1="498.85" y1="328.50" x2="498.85" y2="332.00" stroke="#000" stroke-width="1.3"/>
<line x1="368.00" y1="287.50" x2="379.50" y2="287.50" stroke="#000" stroke-width="1.6"/>
<line x1="368.00" y1="284.00" x2="368.00" y2="291.00" stroke="#000" stroke-width="1.4"/>
<line x1="379.50" y1="284.00" x2="379.50" y2="291.00" stroke="#000" stroke-width="1.4"/>
<polygon points="373.75,278.17 374.56,279.79 376.60,279.95 375.06,281.11 375.51,282.83 373.75,281.93 371.99,282.83 372.44,281.11 370.90,279.95 372.94,279.79" fill="#000"/>
<line x1="408.25" y1="239.50" x2="420.00" y2="239.50" stroke="#000" stroke-width="1.6"/>
<line x1="408.25" y1="236.00" x2="408.25" y2="243.00" stroke="#000" stroke-width="1.4"/>
<line x1="420.00" y1="236.00" x2="420.00" y2="243.00" stroke="#000" stroke-width="1.4"/>
<polygon points="414.25,230.67 415.06,232.29 417.10,232.45 415.56,233.61 416.01,235.33 414.25,234.43 412.49,235.33 412.94,233.61 411.40,232.45 413.44,232.29" fill="#000"/>
<line x1="418.75" y1="306.00" x2="431.25" y2="306.00" stroke="#000" stroke-width="1.6"/>
<line x1="418.75" y1="302.50" x2="418.75" y2="309.50" stroke="#000" stroke-width="1.4"/>
<line x1="431.25" y1="302.50" x2="431.25" y2="309.50" stroke="#000" stroke-width="1.4"/>
<polygon points="425.00,297.17 425.81,298.79 427.85,298.95 426.31,300.11 426.76,301.83 425.00,300.93 423.24,301.83 423.69,300.11 422.15,298.95 424.19,298.79" fill="#000"/>
<line x1="447.40" y1="231.20" x2="459.70" y2="231.20" stroke="#000" stroke-width="1.6"/>
<line x1="447.40" y1="227.70" x2="447.40" y2="234.70" stroke="#000" stroke-width="1.4"/>
<line x1="459.70" y1="227.70" x2="459.70" y2="234.70" stroke="#000" stroke-width="1.4"/>
<polygon points="453.50,223.17 454.31,224.79 456.35,224.95 454.81,226.11 455.26,227.83 453.50,226.93 451.74,227.83 452.19,226.11 450.65,224.95 452.69,224.79" fill="#000"/>
<line x1="459.70" y1="240.30" x2="470.50" y2="240.30" stroke="#000" stroke-width="1.6"/>
<line x1="459.70" y1="236.80" x2="459.70" y2="243.80" stroke="#000" stroke-width="1.4"/>
<line x1="470.50" y1="236.80" x2="470.50" y2="243.80" stroke="#000" stroke-width="1.4"/>
<polygon points="464.30,233.37 465.11,234.99 467.15,235.15 465.61,236.31 466.06,238.03 464.30,237.13 462.54,238.03 462.99,236.31 461.45,235.15 463.49,234.99" fill="#000"/>
<line x1="485.80" y1="233.10" x2="497.20" y2="233.10" stroke="#000" stroke-width="1.6"/>
<line x1="485.80" y1="229.60" x2="485.80" y2="236.60" stroke="#000" stroke-width="1.4"/>
<line x1="497.20" y1="229.60" x2="497.20" y2="236.60" stroke="#000" stroke-width="1.4"/>
<polygon points="492.00,226.17 492.81,227.79 494.85,227.95 493.31,229.11 493.76,230.83 492.00,229.93 490.24,230.83 490.69,229.11 489.15,227.95 491.19,227.79" fill="#000"/>
<line x1="496.90" y1="224.60" x2="509.20" y2="224.60" stroke="#000" stroke-width="1.6"/>
<line x1="496.90" y1="221.10" x2="496.90" y2="228.10" stroke="#000" stroke-width="1.4"/>
<line x1="509.20" y1="221.10" x2="509.20" y2="228.10" stroke="#000" stroke-width="1.4"/>
<polygon points="503.10,216.87 503.91,218.49 505.95,218.65 504.41,219.81 504.86,221.53 503.10,220.63 501.34,221.53 501.79,219.81 500.25,218.65 502.29,218.49" fill="#000"/>
<line x1="445.40" y1="211.50" x2="470.50" y2="211.50" stroke="#000" stroke-width="1.6"/>
<line x1="445.40" y1="208.00" x2="445.40" y2="215.00" stroke="#000" stroke-width="1.4"/>
<line x1="470.50" y1="208.00" x2="470.50" y2="215.00" stroke="#000" stroke-width="1.4"/>
<text x="457.30" y="210.00" font-size="8" font-weight="normal" text-anchor="middle">ns</text>
<line x1="484.30" y1="210.00" x2="509.50" y2="210.00" stroke="#000" stroke-width="1.6"/>
<line x1="484.30" y1="206.50" x2="484.30" y2="213.50" stroke="#000" stroke-width="1.4"/>
<line x1="509.50" y1="206.50" x2="509.50" y2="213.50" stroke="#000" stroke-width="1.4"/>
<text x="497.30" y="208.90" font-size="8" font-weight="normal" text-anchor="middle">ns</text>
<text x="285.00" y="278.69" font-size="10.6" font-weight="normal" text-anchor="middle" textLength="105.79" lengthAdjust="spacingAndGlyphs" transform="rotate(-90 285.00 278.69)">P-Selectin Expression</text>
<text x="297.30" y="278.75" font-size="10.3" font-weight="normal" text-anchor="middle" textLength="24.38" lengthAdjust="spacingAndGlyphs" transform="rotate(-90 297.30 278.75)">(MFI)</text>
<text x="341.20" y="340.00" font-size="7.7" font-weight="bold" text-anchor="middle">No stim.</text>
<text x="380.60" y="340.00" font-size="7.7" font-weight="bold" text-anchor="middle">0.1</text>
<text x="420.00" y="340.00" font-size="7.7" font-weight="bold" text-anchor="middle">0.3</text>
<text x="459.40" y="340.00" font-size="7.7" font-weight="bold" text-anchor="middle">0.6</text>
<text x="498.80" y="340.00" font-size="7.7" font-weight="bold" text-anchor="middle">1.0</text>
<text x="387.00" y="351.60" font-size="11.7" font-weight="normal" textLength="65.64" lengthAdjust="spacingAndGlyphs">CRP (µg/ml)</text>
<rect x="324.60" y="208.50" width="12.40" height="7.50" fill="#000"/>
<rect x="325.20" y="220.00" width="11.20" height="6.40" fill="#fff" stroke="#000" stroke-width="1.2"/>
<rect x="325.20" y="231.80" width="11.20" height="6.70" fill="#e0361c" stroke="#000" stroke-width="1.2"/>
<text x="342.47" y="215.50" font-size="7.8" font-weight="bold" textLength="38.45" lengthAdjust="spacingAndGlyphs">Bdkrb2+/+</text>
<text x="342.47" y="226.40" font-size="7.8" font-weight="bold" textLength="34.54" lengthAdjust="spacingAndGlyphs">Bdkrb2-/-</text>
<text x="342.46" y="237.30" font-size="7.8" font-weight="bold" textLength="61.13" lengthAdjust="spacingAndGlyphs">Bdkrb2-/-+A-779</text>
<text x="2.83" y="371.80" font-size="11.4" font-weight="bold">E</text>
<rect x="49.50" y="480.77" width="8.60" height="5.73" fill="#000"/>
<rect x="61.35" y="481.42" width="7.10" height="5.08" fill="#fff" stroke="#000" stroke-width="1.3"/>
<rect x="72.55" y="481.77" width="7.10" height="4.73" fill="#dc1010" stroke="#000" stroke-width="1.3"/>
<line x1="95.60" y1="473.00" x2="95.60" y2="470.82" stroke="#000" stroke-width="1.3"/>
<line x1="93.60" y1="470.82" x2="97.60" y2="470.82" stroke="#000" stroke-width="1.8199999999999998"/>
<rect x="91.30" y="473.00" width="8.60" height="13.50" fill="#000"/>
<rect x="103.15" y="481.88" width="7.10" height="4.61" fill="#fff" stroke="#000" stroke-width="1.3"/>
<line x1="117.90" y1="478.78" x2="117.90" y2="477.84" stroke="#000" stroke-width="1.3"/>
<line x1="115.90" y1="477.84" x2="119.90" y2="477.84" stroke="#000" stroke-width="1.8199999999999998"/>
<rect x="114.35" y="479.43" width="7.10" height="7.07" fill="#dc1010" stroke="#000" stroke-width="1.3"/>
<line x1="137.40" y1="426.99" x2="137.40" y2="418.64" stroke="#000" stroke-width="1.3"/>
<line x1="135.40" y1="418.64" x2="139.40" y2="418.64" stroke="#000" stroke-width="1.8199999999999998"/>
<rect x="133.10" y="426.99" width="8.60" height="59.51" fill="#000"/>
<rect x="144.95" y="480.64" width="7.10" height="5.86" fill="#fff" stroke="#000" stroke-width="1.3"/>
<line x1="159.70" y1="471.99" x2="159.70" y2="464.97" stroke="#000" stroke-width="1.3"/>
<line x1="157.70" y1="464.97" x2="161.70" y2="464.97" stroke="#000" stroke-width="1.8199999999999998"/>
<rect x="156.15" y="472.64" width="7.10" height="13.86" fill="#dc1010" stroke="#000" stroke-width="1.3"/>
<line x1="179.20" y1="401.25" x2="179.20" y2="398.05" stroke="#000" stroke-width="1.3"/>
<line x1="177.20" y1="398.05" x2="181.20" y2="398.05" stroke="#000" stroke-width="1.8199999999999998"/>
<rect x="174.90" y="401.25" width="8.60" height="85.25" fill="#000"/>
<line x1="190.30" y1="475.03" x2="190.30" y2="474.33" stroke="#000" stroke-width="1.3"/>
<line x1="188.30" y1="474.33" x2="192.30" y2="474.33" stroke="#000" stroke-width="1.8199999999999998"/>
<rect x="186.75" y="475.68" width="7.10" height="10.82" fill="#fff" stroke="#000" stroke-width="1.3"/>
<line x1="201.50" y1="441.24" x2="201.50" y2="430.81" stroke="#000" stroke-width="1.3"/>
<line x1="199.50" y1="430.81" x2="203.50" y2="430.81" stroke="#000" stroke-width="1.8199999999999998"/>
<rect x="197.95" y="441.89" width="7.10" height="44.61" fill="#dc1010" stroke="#000" stroke-width="1.3"/>
<line x1="221.00" y1="396.25" x2="221.00" y2="393.84" stroke="#000" stroke-width="1.3"/>
<line x1="219.00" y1="393.84" x2="223.00" y2="393.84" stroke="#000" stroke-width="1.8199999999999998"/>
<rect x="216.70" y="396.25" width="8.60" height="90.25" fill="#000"/>
<line x1="232.10" y1="447.00" x2="232.10" y2="435.02" stroke="#000" stroke-width="1.3"/>
<line x1="230.10" y1="435.02" x2="234.10" y2="435.02" stroke="#000" stroke-width="1.8199999999999998"/>
<rect x="228.55" y="447.65" width="7.10" height="38.85" fill="#fff" stroke="#000" stroke-width="1.3"/>
<line x1="243.30" y1="412.51" x2="243.30" y2="409.51" stroke="#000" stroke-width="1.3"/>
<line x1="241.30" y1="409.51" x2="245.30" y2="409.51" stroke="#000" stroke-width="1.8199999999999998"/>
<rect x="239.75" y="413.16" width="7.10" height="73.34" fill="#dc1010" stroke="#000" stroke-width="1.3"/>
<line x1="45.00" y1="381.25" x2="45.00" y2="487.40" stroke="#000" stroke-width="1.8"/>
<line x1="41.20" y1="486.50" x2="45.00" y2="486.50" stroke="#000" stroke-width="1.4"/>
<text x="40.80" y="489.40" font-size="7.6" font-weight="bold" text-anchor="end">0</text>
<line x1="41.20" y1="463.10" x2="45.00" y2="463.10" stroke="#000" stroke-width="1.4"/>
<text x="40.80" y="466.00" font-size="7.6" font-weight="bold" text-anchor="end">1000</text>
<line x1="41.20" y1="439.70" x2="45.00" y2="439.70" stroke="#000" stroke-width="1.4"/>
<text x="40.80" y="442.60" font-size="7.6" font-weight="bold" text-anchor="end">2000</text>
<line x1="41.20" y1="416.30" x2="45.00" y2="416.30" stroke="#000" stroke-width="1.4"/>
<text x="40.80" y="419.20" font-size="7.6" font-weight="bold" text-anchor="end">3000</text>
<line x1="41.20" y1="392.90" x2="45.00" y2="392.90" stroke="#000" stroke-width="1.4"/>
<text x="40.80" y="395.80" font-size="7.6" font-weight="bold" text-anchor="end">4000</text>
<line x1="44.10" y1="486.50" x2="250.00" y2="486.50" stroke="#000" stroke-width="1.8"/>
<line x1="65.00" y1="486.50" x2="65.00" y2="490.00" stroke="#000" stroke-width="1.3"/>
<line x1="106.80" y1="486.50" x2="106.80" y2="490.00" stroke="#000" stroke-width="1.3"/>
<line x1="148.60" y1="486.50" x2="148.60" y2="490.00" stroke="#000" stroke-width="1.3"/>
<line x1="190.40" y1="486.50" x2="190.40" y2="490.00" stroke="#000" stroke-width="1.3"/>
<line x1="232.20" y1="486.50" x2="232.20" y2="490.00" stroke="#000" stroke-width="1.3"/>
<line x1="178.50" y1="388.20" x2="203.10" y2="388.20" stroke="#000" stroke-width="1.8"/>
<line x1="178.50" y1="384.20" x2="178.50" y2="392.20" stroke="#000" stroke-width="1.5"/>
<line x1="203.10" y1="384.20" x2="203.10" y2="392.20" stroke="#000" stroke-width="1.5"/>
<circle cx="190.8" cy="380.8" r="1.15" fill="#000"/>
<line x1="187.70" y1="422.90" x2="202.30" y2="422.90" stroke="#000" stroke-width="1.8"/>
<line x1="187.70" y1="418.90" x2="187.70" y2="426.90" stroke="#000" stroke-width="1.5"/>
<line x1="202.30" y1="418.90" x2="202.30" y2="426.90" stroke="#000" stroke-width="1.5"/>
<polygon points="195.30,412.11 196.17,413.84 198.34,414.01 196.70,415.25 197.18,417.09 195.30,416.13 193.42,417.09 193.90,415.25 192.26,414.01 194.43,413.84" fill="#000"/>
<line x1="219.50" y1="381.20" x2="244.50" y2="381.20" stroke="#000" stroke-width="1.8"/>
<line x1="219.50" y1="377.20" x2="219.50" y2="385.20" stroke="#000" stroke-width="1.5"/>
<line x1="244.50" y1="377.20" x2="244.50" y2="385.20" stroke="#000" stroke-width="1.5"/>
<text x="232.60" y="378.75" font-size="8.5" font-weight="normal" text-anchor="middle">ns</text>
<line x1="231.50" y1="404.50" x2="244.50" y2="404.50" stroke="#000" stroke-width="1.8"/>
<line x1="231.50" y1="400.50" x2="231.50" y2="408.50" stroke="#000" stroke-width="1.5"/>
<line x1="244.50" y1="400.50" x2="244.50" y2="408.50" stroke="#000" stroke-width="1.5"/>
<polygon points="238.40,394.91 239.27,396.64 241.44,396.81 239.80,398.05 240.28,399.89 238.40,398.93 236.52,399.89 237.00,398.05 235.36,396.81 237.53,396.64" fill="#000"/>
<text x="11.00" y="436.03" font-size="11.4" font-weight="bold" text-anchor="middle" textLength="114.89" lengthAdjust="spacingAndGlyphs" transform="rotate(-90 11.00 436.03)">JON/A Binding (MFI)</text>
<text x="65.00" y="497.60" font-size="7.8" font-weight="bold" text-anchor="middle">No stim.</text>
<text x="106.80" y="497.60" font-size="7.8" font-weight="bold" text-anchor="middle">0.1</text>
<text x="148.60" y="497.60" font-size="7.8" font-weight="bold" text-anchor="middle">0.3</text>
<text x="190.40" y="497.60" font-size="7.8" font-weight="bold" text-anchor="middle">0.6</text>
<text x="232.20" y="497.60" font-size="7.8" font-weight="bold" text-anchor="middle">1.0</text>
<text x="114.20" y="516.00" font-size="13.6" font-weight="bold" text-anchor="start">CRP (µg/ml)</text>
<rect x="51.30" y="377.80" width="13.80" height="8.20" fill="#000"/>
<rect x="52.05" y="390.85" width="12.30" height="6.55" fill="#fff" stroke="#000" stroke-width="1.5"/>
<rect x="52.05" y="402.95" width="12.30" height="6.65" fill="#dc1010" stroke="#000" stroke-width="1.5"/>
<text x="69.76" y="384.30" font-size="8" font-weight="bold" textLength="41.37" lengthAdjust="spacingAndGlyphs">Bdkrb2 +/+</text>
<text x="66.65" y="396.60" font-size="8" font-weight="bold" textLength="38.28" lengthAdjust="spacingAndGlyphs">Bdkrb2 -/-</text>
<text x="69.76" y="408.60" font-size="8" font-weight="bold" textLength="87.52" lengthAdjust="spacingAndGlyphs">Bdkrb2 -/- +Nimesulide</text>
<text x="264.78" y="371.80" font-size="12.2" font-weight="bold">F</text>
<rect x="331.25" y="483.75" width="7.80" height="2.85" fill="#000"/>
<rect x="342.35" y="484.46" width="6.40" height="2.14" fill="#fff" stroke="#000" stroke-width="1.2"/>
<rect x="353.05" y="484.77" width="6.40" height="1.83" fill="#d81414" stroke="#000" stroke-width="1.2"/>
<line x1="373.25" y1="480.69" x2="373.25" y2="480.06" stroke="#000" stroke-width="1.3"/>
<line x1="371.35" y1="480.06" x2="375.15" y2="480.06" stroke="#000" stroke-width="1.8199999999999998"/>
<rect x="369.35" y="480.69" width="7.80" height="5.91" fill="#000"/>
<rect x="380.45" y="484.67" width="6.40" height="1.93" fill="#fff" stroke="#000" stroke-width="1.2"/>
<rect x="391.15" y="483.30" width="6.40" height="3.30" fill="#d81414" stroke="#000" stroke-width="1.2"/>
<line x1="411.35" y1="441.87" x2="411.35" y2="433.43" stroke="#000" stroke-width="1.3"/>
<line x1="409.45" y1="433.43" x2="413.25" y2="433.43" stroke="#000" stroke-width="1.8199999999999998"/>
<rect x="407.45" y="441.87" width="7.80" height="44.73" fill="#000"/>
<rect x="418.55" y="484.46" width="6.40" height="2.14" fill="#fff" stroke="#000" stroke-width="1.2"/>
<line x1="432.45" y1="478.37" x2="432.45" y2="473.10" stroke="#000" stroke-width="1.3"/>
<line x1="430.55" y1="473.10" x2="434.35" y2="473.10" stroke="#000" stroke-width="1.8199999999999998"/>
<rect x="429.25" y="478.97" width="6.40" height="7.63" fill="#d81414" stroke="#000" stroke-width="1.2"/>
<line x1="449.45" y1="408.11" x2="449.45" y2="405.15" stroke="#000" stroke-width="1.3"/>
<line x1="447.55" y1="405.15" x2="451.35" y2="405.15" stroke="#000" stroke-width="1.8199999999999998"/>
<rect x="445.55" y="408.11" width="7.80" height="78.49" fill="#000"/>
<rect x="456.65" y="481.93" width="6.40" height="4.67" fill="#fff" stroke="#000" stroke-width="1.2"/>
<line x1="470.55" y1="443.85" x2="470.55" y2="429.63" stroke="#000" stroke-width="1.3"/>
<line x1="468.65" y1="429.63" x2="472.45" y2="429.63" stroke="#000" stroke-width="1.8199999999999998"/>
<rect x="467.35" y="444.45" width="6.40" height="42.15" fill="#d81414" stroke="#000" stroke-width="1.2"/>
<line x1="487.55" y1="397.09" x2="487.55" y2="395.03" stroke="#000" stroke-width="1.3"/>
<line x1="485.65" y1="395.03" x2="489.45" y2="395.03" stroke="#000" stroke-width="1.8199999999999998"/>
<rect x="483.65" y="397.09" width="7.80" height="89.51" fill="#000"/>
<line x1="497.95" y1="444.40" x2="497.95" y2="427.73" stroke="#000" stroke-width="1.3"/>
<line x1="496.05" y1="427.73" x2="499.85" y2="427.73" stroke="#000" stroke-width="1.8199999999999998"/>
<rect x="494.75" y="445.00" width="6.40" height="41.60" fill="#fff" stroke="#000" stroke-width="1.2"/>
<line x1="508.65" y1="408.85" x2="508.65" y2="398.82" stroke="#000" stroke-width="1.3"/>
<line x1="506.75" y1="398.82" x2="510.55" y2="398.82" stroke="#000" stroke-width="1.8199999999999998"/>
<rect x="505.45" y="409.45" width="6.40" height="77.15" fill="#d81414" stroke="#000" stroke-width="1.2"/>
<line x1="326.30" y1="391.25" x2="326.30" y2="487.50" stroke="#000" stroke-width="1.8"/>
<line x1="322.50" y1="486.60" x2="326.30" y2="486.60" stroke="#000" stroke-width="1.4"/>
<text x="322.10" y="489.30" font-size="7.2" font-weight="bold" text-anchor="end">0</text>
<line x1="322.50" y1="465.50" x2="326.30" y2="465.50" stroke="#000" stroke-width="1.4"/>
<text x="322.10" y="468.20" font-size="7.2" font-weight="bold" text-anchor="end">1000</text>
<line x1="322.50" y1="444.40" x2="326.30" y2="444.40" stroke="#000" stroke-width="1.4"/>
<text x="322.10" y="447.10" font-size="7.2" font-weight="bold" text-anchor="end">2000</text>
<line x1="322.50" y1="423.30" x2="326.30" y2="423.30" stroke="#000" stroke-width="1.4"/>
<text x="322.10" y="426.00" font-size="7.2" font-weight="bold" text-anchor="end">3000</text>
<line x1="322.50" y1="402.20" x2="326.30" y2="402.20" stroke="#000" stroke-width="1.4"/>
<text x="322.10" y="404.90" font-size="7.2" font-weight="bold" text-anchor="end">4000</text>
<line x1="325.40" y1="486.60" x2="516.00" y2="486.60" stroke="#000" stroke-width="1.8"/>
<line x1="345.55" y1="486.60" x2="345.55" y2="490.10" stroke="#000" stroke-width="1.3"/>
<line x1="383.65" y1="486.60" x2="383.65" y2="490.10" stroke="#000" stroke-width="1.3"/>
<line x1="421.75" y1="486.60" x2="421.75" y2="490.10" stroke="#000" stroke-width="1.3"/>
<line x1="459.85" y1="486.60" x2="459.85" y2="490.10" stroke="#000" stroke-width="1.3"/>
<line x1="497.95" y1="486.60" x2="497.95" y2="490.10" stroke="#000" stroke-width="1.3"/>
<line x1="447.70" y1="394.60" x2="471.50" y2="394.60" stroke="#000" stroke-width="1.7"/>
<line x1="447.70" y1="391.10" x2="447.70" y2="398.10" stroke="#000" stroke-width="1.5"/>
<line x1="471.50" y1="391.10" x2="471.50" y2="398.10" stroke="#000" stroke-width="1.5"/>
<text x="460.20" y="389.90" font-size="8" font-weight="normal" text-anchor="middle">ns</text>
<line x1="458.50" y1="422.20" x2="472.00" y2="422.20" stroke="#000" stroke-width="1.7"/>
<line x1="458.50" y1="418.70" x2="458.50" y2="425.70" stroke="#000" stroke-width="1.5"/>
<line x1="472.00" y1="418.70" x2="472.00" y2="425.70" stroke="#000" stroke-width="1.5"/>
<polygon points="465.80,411.87 466.61,413.49 468.65,413.65 467.11,414.81 467.56,416.53 465.80,415.63 464.04,416.53 464.49,414.81 462.95,413.65 464.99,413.49" fill="#000"/>
<line x1="485.80" y1="384.60" x2="510.50" y2="384.60" stroke="#000" stroke-width="1.7"/>
<line x1="485.80" y1="381.10" x2="485.80" y2="388.10" stroke="#000" stroke-width="1.5"/>
<line x1="510.50" y1="381.10" x2="510.50" y2="388.10" stroke="#000" stroke-width="1.5"/>
<text x="499.20" y="381.40" font-size="8" font-weight="normal" text-anchor="middle">ns</text>
<circle cx="498.6" cy="418.9" r="1.05" fill="#000"/>
<text x="288.00" y="438.94" font-size="10.2" font-weight="bold" text-anchor="middle" textLength="112.90" lengthAdjust="spacingAndGlyphs" transform="rotate(-90 288.00 438.94)">P-Selection Expression</text>
<text x="300.90" y="436.80" font-size="9.8" font-weight="bold" text-anchor="middle" textLength="24.63" lengthAdjust="spacingAndGlyphs" transform="rotate(-90 300.90 436.80)">(MFI)</text>
<text x="344.60" y="497.60" font-size="7.2" font-weight="bold" text-anchor="middle">No stim.</text>
<text x="382.70" y="497.60" font-size="7.2" font-weight="bold" text-anchor="middle">0.1</text>
<text x="420.80" y="497.60" font-size="7.2" font-weight="bold" text-anchor="middle">0.3</text>
<text x="458.90" y="497.60" font-size="7.2" font-weight="bold" text-anchor="middle">0.6</text>
<text x="497.00" y="497.60" font-size="7.2" font-weight="bold" text-anchor="middle">1.0</text>
<text x="389.84" y="513.80" font-size="11.8" font-weight="bold" textLength="65.76" lengthAdjust="spacingAndGlyphs">CRP (µg/ml)</text>
<rect x="330.80" y="390.00" width="12.70" height="6.50" fill="#000"/>
<rect x="331.40" y="402.90" width="11.50" height="5.20" fill="#fff" stroke="#000" stroke-width="1.2"/>
<rect x="331.40" y="413.80" width="11.50" height="5.80" fill="#d81414" stroke="#000" stroke-width="1.2"/>
<text x="346.13" y="396.50" font-size="6.9" font-weight="bold" textLength="35.75" lengthAdjust="spacingAndGlyphs">Bdkrb2 +/+</text>
<text x="346.13" y="407.40" font-size="6.9" font-weight="bold" textLength="28.86" lengthAdjust="spacingAndGlyphs">Bdkrb -/-</text>
<text x="346.14" y="417.80" font-size="6.9" font-weight="bold" textLength="74.30" lengthAdjust="spacingAndGlyphs">Bdkrb2 -/- +Nimesulide</text>
</svg>
</body></html>
